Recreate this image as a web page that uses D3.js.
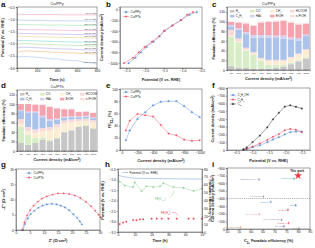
<!DOCTYPE html>
<html>
<head>
<meta charset="utf-8">
<script src="https://cdn.jsdelivr.net/npm/d3@7.9.0/dist/d3.min.js"></script>
<style>
  body { margin: 0; background: #fff; }
  svg { display: block; font-family: "Liberation Sans", Arial, sans-serif; }
  .ax text { font-size: 3.4px; fill: #222; }
  .ax path, .ax line { stroke: #333; stroke-width: 0.4; }
  .xl text { font-size: 2.5px; }
  .lbl { font-size: 3.9px; font-weight: bold; fill: #222; }
  .ttl { font-size: 3.9px; fill: #222; }
  .leg { font-size: 3px; fill: #222; }
  .tiny { font-size: 2.1px; fill: #333; }
  .letter { font-size: 8px; font-weight: bold; fill: #111; }
</style>
</head>
<body>
<svg id="fig" width="315" height="248"></svg>
<script>
// shared current steps (mA/cm2)
const currents = [-50, -100, -200, -300, -400, -500, -600, -700, -800, -900, -1000];
const currentLabels = ["-50", "-100", "-200", "-300", "-400", "-500", "-600", "-700", "-800", "-900", "-1000"];

// a: chronopotentiometry on Cu/PPy
const timeA = [0, 50, 100, 150, 200, 250, 300, 350, 400, 450, 500, 550, 600, 650, 700, 750, 800];
const potA = [
  [-0.80, -0.80, -0.80, -0.81, -0.81, -0.81, -0.81, -0.81, -0.81, -0.82, -0.82, -0.82, -0.82, -0.82, -0.82, -0.82, -0.82],
  [-1.04, -1.04, -1.05, -1.05, -1.05, -1.05, -1.06, -1.06, -1.06, -1.06, -1.07, -1.07, -1.07, -1.07, -1.08, -1.08, -1.08],
  [-1.22, -1.22, -1.22, -1.23, -1.23, -1.23, -1.24, -1.24, -1.24, -1.24, -1.25, -1.25, -1.25, -1.25, -1.26, -1.26, -1.26],
  [-1.42, -1.42, -1.43, -1.43, -1.43, -1.44, -1.44, -1.44, -1.45, -1.45, -1.45, -1.46, -1.46, -1.46, -1.47, -1.47, -1.47],
  [-1.58, -1.58, -1.59, -1.59, -1.60, -1.60, -1.60, -1.61, -1.61, -1.62, -1.62, -1.62, -1.63, -1.63, -1.63, -1.64, -1.64],
  [-1.70, -1.70, -1.71, -1.71, -1.72, -1.72, -1.73, -1.73, -1.74, -1.74, -1.75, -1.75, -1.76, -1.76, -1.77, -1.77, -1.78],
  [-1.88, -1.87, -1.88, -1.88, -1.89, -1.90, -1.90, -1.91, -1.92, -1.92, -1.93, -1.93, -1.94, -1.94, -1.95, -1.95, -1.96],
  [-2.02, -2.00, -2.00, -2.01, -2.02, -2.03, -2.04, -2.04, -2.05, -2.06, -2.06, -2.07, -2.08, -2.08, -2.09, -2.10, -2.10],
  [-2.18, -2.15, -2.15, -2.16, -2.17, -2.18, -2.19, -2.20, -2.21, -2.22, -2.22, -2.23, -2.24, -2.25, -2.26, -2.26, -2.27],
  [-2.36, -2.31, -2.30, -2.31, -2.32, -2.33, -2.34, -2.35, -2.36, -2.37, -2.38, -2.38, -2.39, -2.40, -2.41, -2.42, -2.42],
  [-2.56, -2.52, -2.53, -2.55, -2.56, -2.58, -2.60, -2.63, -2.62, -2.66, -2.68, -2.70, -2.69, -2.74, -2.77, -2.80, -2.84]
];
const colorsA = ["#f7a1b4", "#9cc3ee", "#9fe0b0", "#f3a0c8", "#c5a6ea", "#f3cf8f", "#7fd9cf", "#b5dc8e", "#b9a9e3", "#f6b27a", "#a9c4f2"];

// b: polarization points
const potPPy = [-0.62, -0.82, -1.05, -1.28, -1.48, -1.62, -1.78, -1.97, -2.12, -2.27, -2.45];
const potPTh = [-0.72, -0.88, -1.04, -1.27, -1.50, -1.63, -1.82, -2.02, -2.18, -2.33, -2.57];

// c, d: Faradaic efficiency per product
const products = ["H2", "CO", "CH4", "HCOOH", "C2H4", "HAc", "EtOH", "n-PrOH"];
const productNames = ["H_{2}", "CO", "CH_{4}", "HCOOH", "C_{2}H_{4}", "HAc", "EtOH", "n-PrOH"];
const productColors = ["#c6c6c6", "#d6edc6", "#fdedd2", "#f7d9d9", "#abc2ea", "#d2d2f0", "#f6a3b0", "#f8dde1"];
const fePPy = [
  [8, 5, 4, 3, 3, 3, 4, 7, 12, 18, 24],
  [60, 52, 36, 28, 17, 8, 6, 4, 3, 2, 2],
  [3, 2, 2, 3, 3, 8, 8, 8, 10, 12, 15],
  [12, 6, 4, 3, 2, 2, 3, 2, 2, 2, 2],
  [7, 18, 28, 30, 42, 46, 45, 44, 35, 27, 27],
  [3, 3, 4, 5, 5, 5, 5, 6, 5, 5, 3],
  [6, 12, 18, 19, 26, 27, 29, 30, 30, 28, 22],
  [1, 1, 2, 2, 2, 2, 2, 2, 3, 2, 2]
];
const fePTh = [
  [17, 13, 17, 24, 21, 27, 40, 44, 52, 54, 48],
  [35, 22, 11, 5, 3, 2, 1, 1, 1, 1, 1],
  [6, 7, 11, 13, 20, 21, 18, 16, 10, 9, 12],
  [10, 9, 7, 7, 7, 7, 6, 6, 5, 5, 5],
  [17, 30, 35, 23, 14, 10, 6, 5, 4, 4, 4],
  [2, 3, 3, 3, 3, 2, 2, 2, 2, 2, 2],
  [13, 16, 15, 23, 26, 22, 16, 15, 9, 9, 9],
  [0, 0, 1, 1, 1, 1, 1, 1, 1, 1, 1]
];

// e: C2+ Faradaic efficiency
const feC2PPy = [16, 32, 51, 62, 73, 79, 80, 80, 72, 62, 54];
const feC2PTh = [32, 48, 59, 57, 55, 41, 27, 24, 17, 15, 16];

// f: partial current densities on Cu/PPy
const potF = [-0.72, -0.82, -1.0, -1.22, -1.45, -1.62, -1.8, -1.98, -2.15, -2.32, -2.5];
const jEtOH = [-2, -10, -35, -60, -100, -135, -165, -200, -230, -238, -240];
const jC2H4 = [-3, -15, -45, -85, -130, -170, -205, -255, -272, -262, -228];
const jC2 = [-8, -32, -102, -186, -292, -395, -480, -560, -576, -558, -535];

// g: Nyquist
const zReP = [2.5, 3.2, 4.2, 5.2, 6.5, 8, 9.5, 11, 12.8, 14.5, 16, 17.5, 19, 20.5, 21.8, 22.8, 23.5];
const zImP = [0, 2, 3.8, 5.2, 6.3, 7.3, 8, 8.4, 8.6, 8.4, 8, 7.4, 6.5, 5.2, 4, 2.8, 1.8];
const zReT = [2.2, 3, 4, 5, 6.3, 7.8, 9.3, 11, 13, 15, 17, 19, 21, 23, 25, 26.8, 28.3, 29.5, 30.2];
const zImT = [0, 2.5, 4.8, 6.5, 8, 9.3, 10.3, 11, 11.6, 12, 12, 11.8, 11.3, 10.5, 9.2, 7.8, 6.3, 5, 4.2];

// h: stability
const timeP = [0, 2, 4, 6, 8, 10, 15, 20, 25, 30, 35, 40, 45, 50];
const potH = [-0.80, -0.84, -0.87, -0.90, -0.92, -0.94, -0.95, -0.95, -0.96, -0.96, -0.97, -0.97, -0.98, -0.98];
const timeC2 = [1, 4, 9, 10, 14, 17, 21, 25, 27, 33, 39, 45, 50];
const feC2H = [64, 59, 57, 63, 52, 58, 57, 58, 62, 57, 56, 52, 55];
const timeH2 = [1, 3, 5, 9, 11, 13, 15, 20, 23, 26, 30, 35, 42, 45, 50];
const feH2H = [10, 12, 13, 15, 15, 16, 16, 17, 17, 17, 17, 17, 17, 17, 17];

// i: comparison with literature
const thisWork = [80, -700];
const refFE = [63.5, 78.3, 65.4, 68.5, 79, 75.7, 63.6, 73, 76, 74, 55.7, 80.4];
const refJ = [-650, -660, -425, -355, -312, -251, -195, -121, -78, -35, -22, -9];
const refNames = ["Nanoporous Cu-Al", "Cu-N\u2093C@Cu", "Cu-CuO NWs", "Cu\u2082O/CuO", "Cu\u2083N", "Cu\u2082O-Ag",
  "Cu/Ag DNWs", "Cu/Ag-HNTs@NiF", "Cu/NiO-Ag", "CuAg-O", "Cu-Ag ENPs-CD", "Cu-Br"];
const refColors = ["#8a7fc8", "#3aa8a0", "#9a9a9a", "#6aa0e0", "#4a7fd0", "#e0404a", "#f0a0b0", "#909090", "#e05060", "#9060c0", "#f0a060", "#a0a0a0"];

const svg = d3.select("#fig");
const BLUE = "#5b8fd6", RED = "#ef4f62";

function panel(x0, y0, x1, y1) {
  const g = svg.append("g").attr("transform", `translate(${x0},${y0})`);
  return { g, w: x1 - x0, h: y1 - y0, x0, y0 };
}

function frame(p) {
  p.g.append("rect").attr("width", p.w).attr("height", p.h)
    .attr("fill", "none").attr("stroke", "#333").attr("stroke-width", 0.45);
}

function rich(sel, s) {
  s.split(/(_\{[^}]*\}|\^\{[^}]*\})/).forEach(part => {
    if (!part) return;
    if (part[0] === "_") sel.append("tspan").attr("baseline-shift", "sub").attr("font-size", "70%").text(part.slice(2, -1));
    else if (part[0] === "^") sel.append("tspan").attr("baseline-shift", "super").attr("font-size", "70%").text(part.slice(2, -1));
    else sel.append("tspan").text(part);
  });
  return sel;
}

function label(x, y, s, cls, rot) {
  const t = svg.append("text").attr("class", cls).attr("text-anchor", "middle")
    .attr("transform", `translate(${x},${y})` + (rot ? ` rotate(${rot})` : ""));
  return rich(t, s);
}

function xAxis(p, scale, ticks, fmt, cls) {
  p.g.append("g").attr("class", "ax " + (cls || "")).attr("transform", `translate(0,${p.h})`)
    .call(d3.axisBottom(scale).tickValues(ticks).tickFormat(fmt).tickSize(1.2).tickPadding(0.8));
}

function yAxis(p, scale, ticks, fmt, right) {
  const ax = right ? d3.axisRight(scale) : d3.axisLeft(scale);
  p.g.append("g").attr("class", "ax").attr("transform", right ? `translate(${p.w},0)` : null)
    .call(ax.tickValues(ticks).tickFormat(fmt).tickSize(1.2).tickPadding(0.8));
}

function marks(g, pts, sym, size, color, filled) {
  g.append("g").selectAll("path").data(pts).join("path")
    .attr("transform", d => `translate(${d[0]},${d[1]})`)
    .attr("d", d3.symbol(sym, size))
    .attr("fill", filled === false ? "none" : color)
    .attr("stroke", color).attr("stroke-width", 0.3);
}

function series(p, xs, ys, x, y, color, sym, size) {
  const pts = xs.map((v, i) => [x(v), y(ys[i])]);
  p.g.append("path").attr("d", d3.line()(pts)).attr("fill", "none")
    .attr("stroke", color).attr("stroke-width", 0.45);
  if (sym) marks(p.g, pts, sym, size || 2.2, color);
}

function legendRow(p, lx, ly, color, sym, text) {
  p.g.append("line").attr("x1", lx).attr("x2", lx + 6).attr("y1", ly).attr("y2", ly)
    .attr("stroke", color).attr("stroke-width", 0.45);
  if (sym) marks(p.g, [[lx + 3, ly]], sym, 2.2, color);
  rich(p.g.append("text").attr("class", "leg").attr("x", lx + 7.5).attr("y", ly + 1.1), text);
}

const f1 = d3.format(".1f"), fd = d3.format("d");

// letters
[["a", 1, 7], ["b", 106, 7], ["c", 212, 7], ["d", 1, 88], ["e", 106, 88], ["f", 212, 88],
 ["g", 1, 167], ["h", 105, 166.5], ["i", 212, 167]].forEach(([s, x, y]) =>
  svg.append("text").attr("class", "letter").attr("x", x).attr("y", y).text(s));

// ---------- a ----------
{
  const p = panel(17, 7, 97, 68);
  const x = d3.scaleLinear().domain([0, 800]).range([0, p.w]);
  const y = d3.scaleLinear().domain([-3.0, -0.5]).range([p.h, 0]);
  potA.forEach((vals, k) => {
    p.g.append("path").attr("d", d3.line().x((d, i) => x(timeA[i])).y(d => y(d))(vals))
      .attr("fill", "none").attr("stroke", colorsA[k]).attr("stroke-width", 0.6);
    rich(p.g.append("text").attr("class", "tiny").attr("text-anchor", "end")
      .attr("x", x(790)).attr("y", y(vals[vals.length - 1]) - 0.9), `${currents[k]} mA/cm^{2}`);
  });
  frame(p);
  xAxis(p, x, [0, 200, 400, 600, 800], fd);
  yAxis(p, y, [-0.5, -1, -1.5, -2, -2.5, -3], f1);
  label(57, 5.3, "Cu/PPy", "ttl");
  label(57, 80.5, "Time (s)", "lbl");
  label(4, 37.5, "Potential (V vs. RHE)", "lbl", -90);
}

// ---------- b ----------
{
  const p = panel(120, 7, 202, 68);
  const x = d3.scaleLinear().domain([-2.68, -0.48]).range([0, p.w]);
  const y = d3.scaleLinear().domain([-1090, 45]).range([p.h, 0]);
  series(p, potPPy, currents, x, y, BLUE, d3.symbolTriangle, 2);
  series(p, potPTh, currents, x, y, RED, d3.symbolCircle, 2);
  frame(p);
  xAxis(p, x, [-2.5, -2, -1.5, -1, -0.5], f1);
  yAxis(p, y, [0, -200, -400, -600, -800, -1000], fd);
  legendRow(p, 3, 5, BLUE, d3.symbolTriangle, "Cu/PPy");
  legendRow(p, 3, 9.5, RED, d3.symbolCircle, "Cu/PTh");
  label(161, 80.5, "Potential (V vs. RHE)", "lbl");
  label(102.5, 37.5, "Current density (mA/cm^{2})", "lbl", -90);
}

// ---------- c, d ----------
function stackPanel(p, data, title) {
  const x = d3.scaleBand().domain(currentLabels).range([0, p.w]).paddingInner(0.16).paddingOuter(0.12);
  const y = d3.scaleLinear().domain([0, 130]).range([p.h, 0]);
  const rows = currentLabels.map((c, i) => {
    const o = { c };
    products.forEach((k, j) => { o[k] = data[j][i]; });
    return o;
  });
  d3.stack().keys(products)(rows).forEach((s, j) => {
    p.g.append("g").attr("fill", productColors[j]).selectAll("rect").data(s).join("rect")
      .attr("x", d => x(d.data.c)).attr("width", x.bandwidth())
      .attr("y", d => y(d[1])).attr("height", d => y(d[0]) - y(d[1]));
  });
  productNames.forEach((n, j) => {
    const lx = 3 + (j % 4) * 20, ly = 3 + Math.floor(j / 4) * 4.8;
    p.g.append("rect").attr("x", lx).attr("y", ly).attr("width", 4.5).attr("height", 2.6).attr("fill", productColors[j]);
    rich(p.g.append("text").attr("class", "leg").attr("x", lx + 5.8).attr("y", ly + 2.4), n);
  });
  frame(p);
  xAxis(p, x, currentLabels, d => d, "xl");
  yAxis(p, y, [0, 20, 40, 60, 80, 100, 120], fd);
  label(p.x0 + p.w / 2, p.y0 - 1.6, title, "ttl");
  label(p.x0 + p.w / 2, p.y0 + p.h + 9.8, "Current density (mA/cm^{2})", "lbl");
  label(p.x0 - 12.5, p.y0 + p.h / 2, "Faradaic efficiency (%)", "lbl", -90);
}
stackPanel(panel(227, 7, 310, 70), fePPy, "Cu/PPy");
stackPanel(panel(17, 90, 97, 151), fePTh, "Cu/PTh");

// ---------- e ----------
{
  const p = panel(120, 89, 202, 150);
  const x = d3.scaleLinear().domain([25, -1030]).range([0, p.w]);
  const y = d3.scaleLinear().domain([0, 100]).range([p.h, 0]);
  series(p, currents, feC2PPy, x, y, BLUE, d3.symbolTriangle, 2);
  series(p, currents, feC2PTh, x, y, RED, d3.symbolCircle, 2);
  frame(p);
  xAxis(p, x, [0, -200, -400, -600, -800, -1000], fd);
  yAxis(p, y, [0, 20, 40, 60, 80, 100], fd);
  legendRow(p, 3, 3, BLUE, d3.symbolTriangle, "Cu/PPy");
  legendRow(p, 3, 7.5, RED, d3.symbolCircle, "Cu/PTh");
  label(161, 161.5, "Current density (mA/cm^{2})", "lbl");
  label(111, 119.5, "FE_{C2+} (%)", "lbl", -90);
}

// ---------- f ----------
{
  const p = panel(227, 88, 310, 150);
  const x = d3.scaleLinear().domain([-0.22, -2.75]).range([0, p.w]);
  const y = d3.scaleLinear().domain([0, -800]).range([p.h, 0]);
  series(p, potF, jEtOH, x, y, BLUE, d3.symbolTriangle, 2);
  series(p, potF, jC2H4, x, y, RED, d3.symbolCircle, 2);
  series(p, potF, jC2, x, y, "#333", d3.symbolSquare, 1.8);
  frame(p);
  xAxis(p, x, [-0.5, -1, -1.5, -2, -2.5], f1);
  yAxis(p, y, [0, -100, -200, -300, -400, -500, -600, -700, -800], fd);
  legendRow(p, 3, 7, BLUE, d3.symbolTriangle, "C_{2}H_{5}OH");
  legendRow(p, 3, 11.5, RED, d3.symbolCircle, "C_{2}H_{4}");
  legendRow(p, 3, 16, "#333", d3.symbolSquare, "C_{2+}");
  label(268.5, 161.5, "Potential (V vs. RHE)", "lbl");
  label(213.5, 119, "Current density (mA/cm^{2})", "lbl", -90);
}

// ---------- g ----------
{
  const p = panel(16, 169, 100, 230);
  const x = d3.scaleLinear().domain([0, 30]).range([0, p.w]);
  const y = d3.scaleLinear().domain([0, 20]).range([p.h, 0]);
  series(p, zReP, zImP, x, y, BLUE, d3.symbolTriangle, 1.6);
  series(p, zReT, zImT, x, y, RED, d3.symbolCircle, 1.6);
  frame(p);
  xAxis(p, x, [0, 5, 10, 15, 20, 25, 30], fd);
  yAxis(p, y, [0, 5, 10, 15, 20], fd);
  legendRow(p, 10, 4, BLUE, d3.symbolTriangle, "Cu/PPy");
  legendRow(p, 10, 8.5, RED, d3.symbolCircle, "Cu/PTh");
  label(58, 242, "Z' (\u03a9\u00b7cm^{2})", "lbl");
  label(5, 199.5, "-Z'' (\u03a9\u00b7cm^{2})", "lbl", -90);
}

// ---------- h ----------
{
  const p = panel(118, 169, 202, 232);
  const x = d3.scaleLinear().domain([0, 50]).range([0, p.w]);
  const yl = d3.scaleLinear().domain([-3.5, -0.5]).range([p.h, 0]);
  const yr = d3.scaleLinear().domain([0, 80]).range([p.h, 0]);
  series(p, timeP, potH, x, yl, BLUE);
  series(p, timeC2, feC2H, x, yr, "#92d49a", d3.symbolCircle, 2);
  marks(p.g, timeH2.map((t, i) => [x(t), yr(feH2H[i])]), d3.symbolSquare, 1.8, "#e3414d");
  frame(p);
  xAxis(p, x, [0, 10, 20, 30, 40, 50], fd);
  yAxis(p, yl, [-0.5, -1, -1.5, -2, -2.5, -3, -3.5], f1);
  yAxis(p, yr, [0, 10, 20, 30, 40, 50, 60, 70, 80], fd, true);
  legendRow(p, 4, 3.5, BLUE, null, "Potential (V vs. RHE)");
  rich(p.g.append("text").attr("class", "leg").style("fill", "#6cbf78")
    .attr("x", 37).attr("y", 31), "FE(C_{2+})");
  p.g.append("path").attr("d", "M52,28.5 Q55,27 56,22").attr("fill", "none").attr("stroke", "#6cbf78").attr("stroke-width", 0.35);
  rich(p.g.append("text").attr("class", "leg").style("fill", "#e3414d")
    .attr("x", 43).attr("y", 44.5), "FE(H_{2})");
  p.g.append("path").attr("d", "M54,43.5 Q58,42 60,46.5").attr("fill", "none").attr("stroke", "#e3414d").attr("stroke-width", 0.35);
  label(160, 242, "Time (h)", "lbl");
  label(103.5, 200.5, "Potential (V vs. RHE)", "lbl", -90);
  label(208.5, 200.5, "Faradaic efficiency (%)", "lbl", 90);
}

// ---------- i ----------
{
  const p = panel(227, 168, 310, 229);
  const x = d3.scaleLinear().domain([50, 85]).range([0, p.w]);
  const y = d3.scaleLinear().domain([0, -800]).range([p.h, 0]);
  p.g.append("line").attr("x1", 0).attr("x2", p.w).attr("y1", y(-400)).attr("y2", y(-400))
    .attr("stroke", "#555").attr("stroke-width", 0.45).attr("stroke-dasharray", "1.2,0.9");
  refFE.forEach((v, k) => {
    const px = x(v), py = y(refJ[k]);
    marks(p.g, [[px, py]], d3.symbolDiamond, 1.6, refColors[k]);
    p.g.append("text").attr("class", "tiny").style("fill", refColors[k]).attr("text-anchor", "end")
      .attr("x", px - 1.3).attr("y", py + 0.7).text(refNames[k]);
  });
  marks(p.g, [[x(thisWork[0]), y(thisWork[1])]], d3.symbolStar, 16, "#e8333f");
  p.g.append("text").attr("class", "leg").attr("font-weight", "bold").attr("text-anchor", "middle")
    .attr("x", x(thisWork[0]) - 1).attr("y", y(thisWork[1]) - 4).text("This work");
  frame(p);
  xAxis(p, x, [50, 55, 60, 65, 70, 75, 80, 85], fd);
  yAxis(p, y, [0, -100, -200, -300, -400, -500, -600, -700, -800], fd);
  label(268.5, 242, "C_{2+} Faradaic efficiency (%)", "lbl");
  label(213.5, 198.5, "Current density (mA/cm^{2})", "lbl", -90);
}
</script>
</body>
</html>
